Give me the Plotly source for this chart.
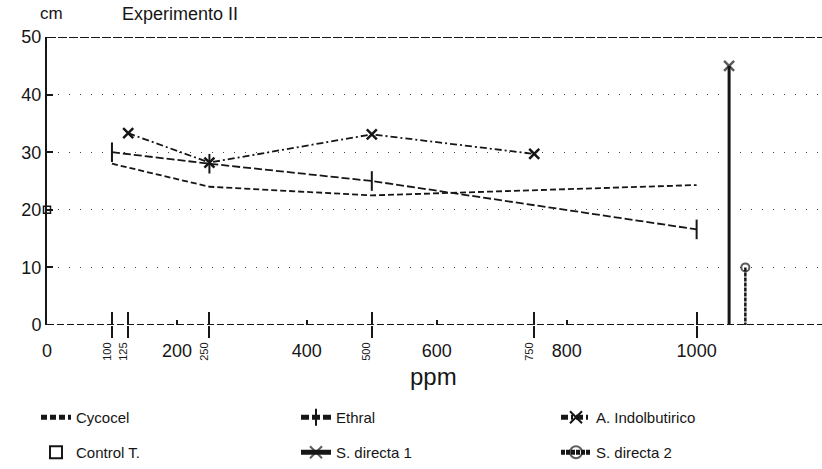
import plotly.graph_objects as go

# ---- data ----
cycocel_x = [100, 250, 500, 1000]
cycocel_y = [28, 24, 22.5, 24.3]

ethral_x = [100, 250, 500, 1000]
ethral_y = [30, 28, 25, 16.6]

aib_x = [125, 250, 500, 750]
aib_y = [33.3, 28.2, 33.1, 29.7]

control_x = [0]
control_y = [20]

sd1_x = [1050, 1050]
sd1_y = [45, 0]

sd2_x = [1075, 1075]
sd2_y = [10, 0]

y_ticks = [0, 10, 20, 30, 40, 50]
x_main_ticks = [0, 200, 400, 600, 800, 1000]
x_main_text = ["0", "200", "400", "600", "800", "1000"]
x_dose_ticks = [100, 125, 250, 500, 750, 1000]
x_dose_text = ["100", "125", "250", "500", "750", ""]

INK = "#161616"
FONT = "Liberation Sans"

W, H = 822, 469
PLOT_TOP, PLOT_BOTTOM, PLOT_LEFT = 37, 325, 47
PH = PLOT_BOTTOM - PLOT_TOP
PW = W - PLOT_LEFT


def py(win_y):
    """window y pixel -> paper y fraction"""
    return (PLOT_BOTTOM - win_y) / PH


def px(win_x):
    """window x pixel -> paper x fraction"""
    return (win_x - PLOT_LEFT) / PW


fig = go.Figure()

fig.add_trace(go.Scatter(
    x=cycocel_x, y=cycocel_y, name="Cycocel", mode="lines",
    line=dict(color=INK, width=1.8, dash="6px,3px"),
    legend="legend", cliponaxis=False))

fig.add_trace(go.Scatter(
    x=ethral_x, y=ethral_y, name="Ethral", mode="lines+markers",
    line=dict(color=INK, width=1.8, dash="8px,3px"),
    marker=dict(symbol="line-ns-open", size=14, color=INK, line=dict(color=INK, width=2)),
    legend="legend", cliponaxis=False))

fig.add_trace(go.Scatter(
    x=aib_x, y=aib_y, name="A. Indolbutirico", mode="lines+markers",
    line=dict(color=INK, width=1.8, dash="7px,3px,2px,3px"),
    marker=dict(symbol="x-thin-open", size=10, color=INK, line=dict(color=INK, width=2.5)),
    legend="legend", cliponaxis=False))

fig.add_trace(go.Scatter(
    x=control_x, y=control_y, name="Control T.", mode="markers",
    marker=dict(symbol="square-open", size=7, color=INK, line=dict(color=INK, width=1.5)),
    legend="legend2", cliponaxis=False))

fig.add_trace(go.Scatter(
    x=sd1_x, y=sd1_y, name="S. directa 1", mode="lines+markers",
    line=dict(color=INK, width=3),
    marker=dict(symbol=["x-thin-open", "line-ew"], size=[10, 0], color=INK,
                line=dict(color=INK, width=2.5)),
    legend="legend2", cliponaxis=False))

fig.add_trace(go.Scatter(
    x=sd2_x, y=sd2_y, name="S. directa 2", mode="lines+markers",
    line=dict(color=INK, width=2.5, dash="4px,1px"),
    marker=dict(symbol=["circle-open", "line-ew"], size=[8, 0], color=INK,
                line=dict(color=INK, width=2)),
    legend="legend2", cliponaxis=False))

xr = [0, 1193]

fig.update_layout(
    width=W, height=H,
    margin=dict(l=PLOT_LEFT, r=0, t=PLOT_TOP, b=H - PLOT_BOTTOM),
    paper_bgcolor="white", plot_bgcolor="white",
    font=dict(family=FONT, color=INK, size=15),
    showlegend=True,
    title=dict(text="Experimento II", x=122 / W, xanchor="left",
               y=1 - 14 / H, yanchor="middle",
               font=dict(family=FONT, size=18, color=INK)),
    xaxis=dict(range=xr, tickmode="array", tickvals=x_main_ticks, ticktext=x_main_text,
               ticks="inside", ticklen=5, tickwidth=1.5, tickcolor=INK,
               showgrid=False, zeroline=False, showline=False,
               ticklabelstandoff=13,
               tickfont=dict(family=FONT, size=18, color=INK)),
    xaxis2=dict(range=xr, overlaying="x", anchor="y", side="bottom",
                tickmode="array", tickvals=x_dose_ticks, ticktext=x_dose_text,
                ticks="outside", ticklen=12, tickwidth=1.5, tickcolor=INK,
                tickangle=-90, ticklabelshift=-5,
                showgrid=False, zeroline=False, showline=False,
                tickfont=dict(family=FONT, size=11, color=INK)),
    xaxis3=dict(range=xr, overlaying="x", anchor="y", side="bottom",
                tickmode="array", tickvals=x_dose_ticks, ticktext=["" for _ in x_dose_ticks],
                ticks="inside", ticklen=13, tickwidth=1.5, tickcolor=INK,
                showgrid=False, zeroline=False, showline=False),
    yaxis=dict(range=[0, 50], tickmode="array", tickvals=y_ticks,
               ticks="inside", ticklen=6, tickwidth=1.5, tickcolor=INK,
               showgrid=True, gridcolor="#444", gridwidth=1.2, griddash="1px,10px",
               zeroline=False, showline=True, linecolor=INK, linewidth=2,
               tickfont=dict(family=FONT, size=18, color=INK)),
    legend=dict(orientation="h", x=px(36), xanchor="left",
                y=py(401), yanchor="top",
                entrywidth=215, entrywidthmode="pixels",
                font=dict(family=FONT, size=15, color=INK), itemsizing="constant",
                bgcolor="rgba(0,0,0,0)"),
    legend2=dict(orientation="h", x=px(36), xanchor="left",
                 y=py(436), yanchor="top",
                 entrywidth=215, entrywidthmode="pixels",
                 font=dict(family=FONT, size=15, color=INK), itemsizing="constant",
                 bgcolor="rgba(0,0,0,0)"),
    annotations=[
        dict(text="cm", xref="paper", yref="paper", x=px(51), y=py(14),
             xanchor="center", yanchor="middle", showarrow=False,
             font=dict(family=FONT, size=17, color=INK)),
        dict(text="ppm", xref="x", yref="paper", x=595, y=py(376),
             xanchor="center", yanchor="middle", showarrow=False,
             font=dict(family=FONT, size=24, color=INK)),
    ],
    shapes=[
        dict(type="line", xref="paper", yref="y", x0=0, x1=1, y0=0, y1=0,
             line=dict(color=INK, width=2, dash="7px,3px"), layer="above"),
        dict(type="line", xref="paper", yref="y", x0=0, x1=1, y0=50, y1=50,
             line=dict(color=INK, width=2, dash="9px,2px"), layer="above"),
    ],
)

# invisible traces so the overlaying tick axes render
fig.add_trace(go.Scatter(x=[None], y=[None], xaxis="x2", showlegend=False, hoverinfo="skip"))
fig.add_trace(go.Scatter(x=[None], y=[None], xaxis="x3", showlegend=False, hoverinfo="skip"))

# remove the default page margin so the figure sits at the window's top-left corner
fig.write_html("out.html", config={"displayModeBar": False},
               post_script="document.body.style.margin='0px';")
